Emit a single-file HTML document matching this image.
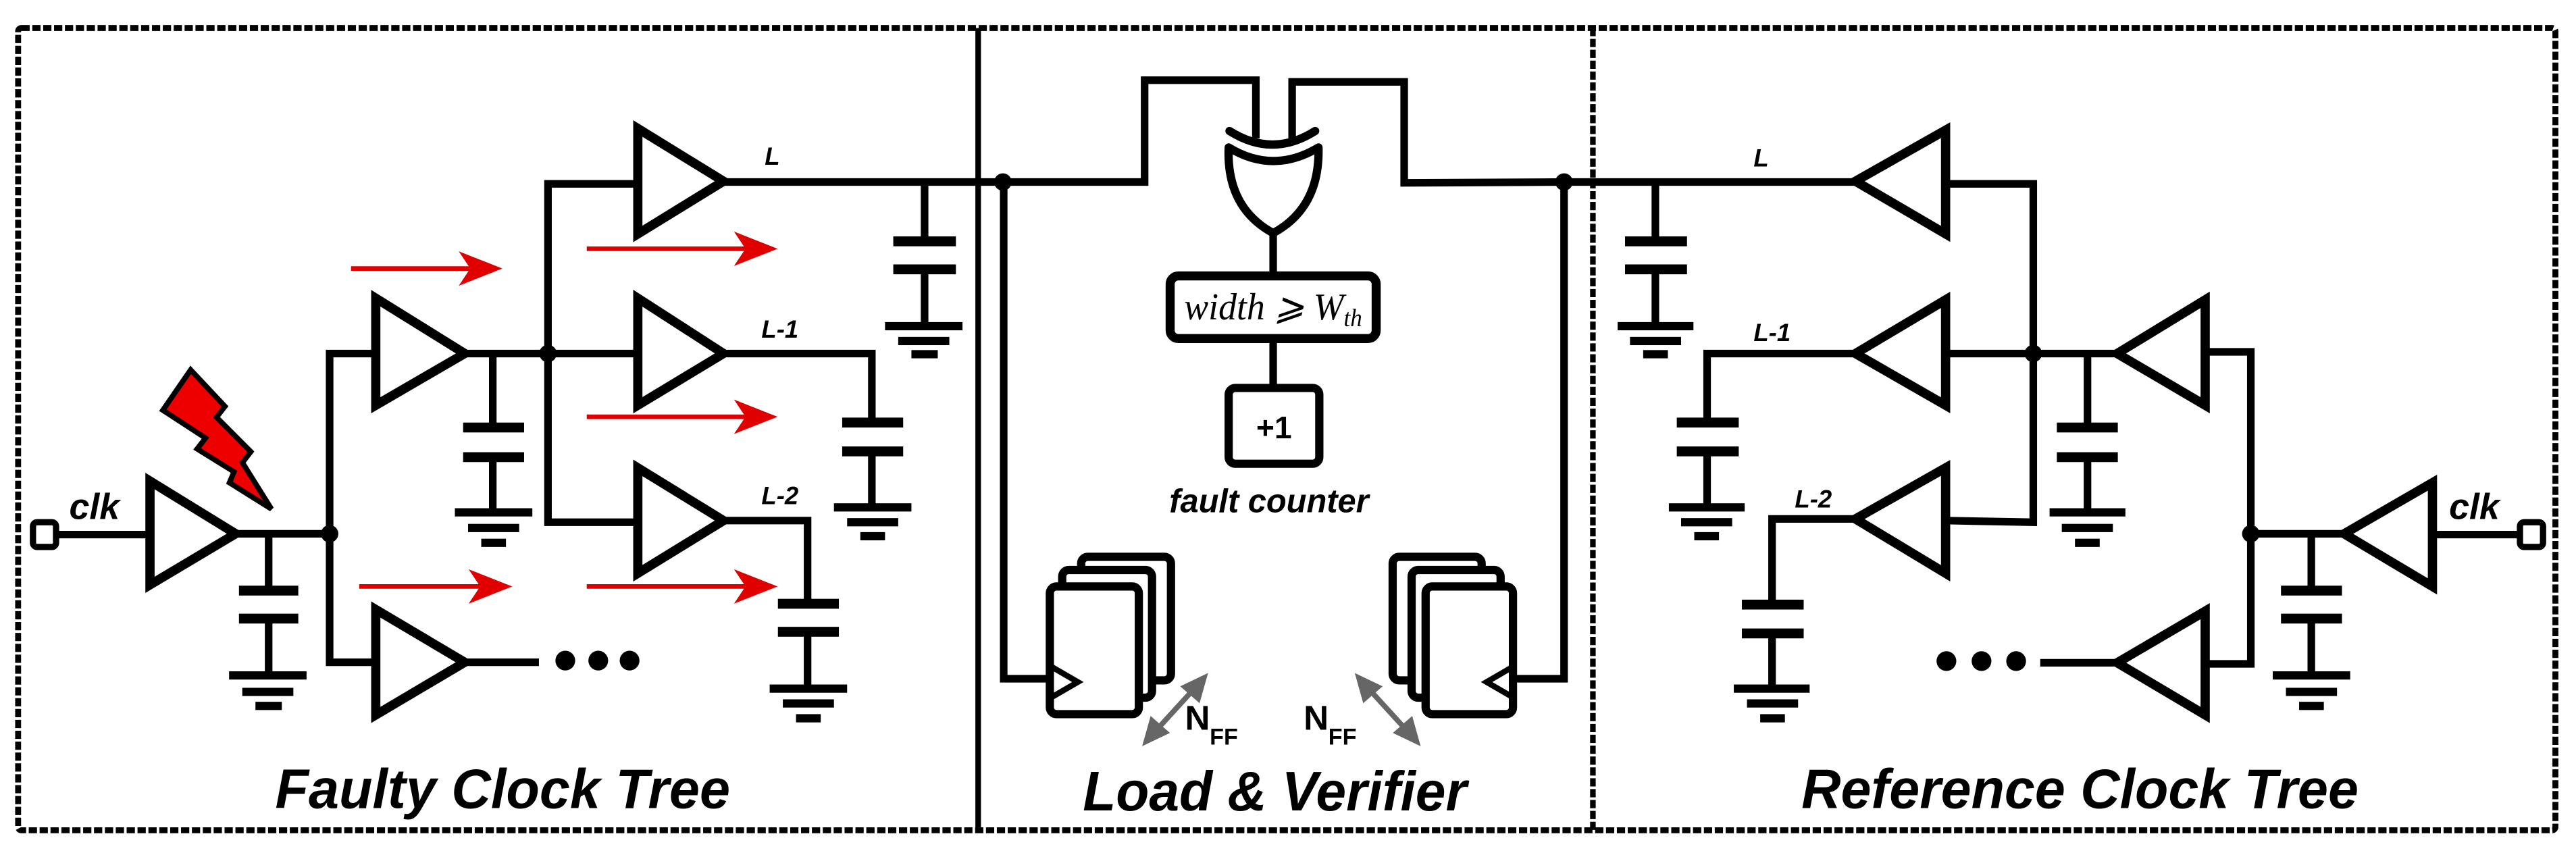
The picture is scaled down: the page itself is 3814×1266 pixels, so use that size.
<!DOCTYPE html>
<html><head><meta charset="utf-8"><style>
html,body{margin:0;padding:0;background:#fff;}
svg{display:block;}
text{font-family:"Liberation Sans",Arial,sans-serif;}
</style></head><body>
<svg width="3814" height="1266" viewBox="0 0 1563 519" preserveAspectRatio="none" xmlns="http://www.w3.org/2000/svg">
<rect width="1563" height="519" fill="#fff"/>
<!-- borders -->
<rect x="11" y="17" width="1539.5" height="487" fill="none" stroke="#000" stroke-width="3.6" stroke-dasharray="5 1.6" rx="2"/>
<line x1="593.5" y1="17" x2="593.5" y2="504" stroke="#000" stroke-width="3.4"/>
<line x1="966.5" y1="17" x2="966.5" y2="504" stroke="#000" stroke-width="3.4" stroke-dasharray="5 1.6"/>

<g fill="none" stroke="#000" stroke-width="4.6" stroke-linejoin="miter">
<!-- LEFT TREE wires -->
<polyline points="35,324.5 90,324.5"/>
<polyline points="143,324 200,324"/>
<line x1="163" y1="324" x2="163" y2="358"/>
<line x1="163" y1="375" x2="163" y2="410"/>
<polyline points="227,214.6 200,214.6 200,402 227,402"/>
<line x1="282" y1="402" x2="327" y2="402"/>
<line x1="282" y1="214.6" x2="386" y2="214.6"/>
<line x1="299" y1="214.6" x2="299" y2="259"/>
<line x1="299" y1="277" x2="299" y2="311"/>
<polyline points="386,111.6 332.5,111.6 332.5,317 386,317"/>
<line x1="439" y1="110.5" x2="608" y2="110.5"/>
<line x1="561" y1="110.5" x2="561" y2="146"/>
<line x1="561" y1="163" x2="561" y2="198"/>
<polyline points="439,214.6 529,214.6 529,256"/>
<line x1="529" y1="273.5" x2="529" y2="308"/>
<polyline points="439,316 490,316 490,366"/>
<line x1="490" y1="383" x2="490" y2="418"/>

<!-- MIDDLE wires -->
<polyline points="608,110.5 694.5,110.5 694.5,48.7 762,48.7 762,84"/>
<polyline points="784,84 784,49.7 852,49.7 852,111 949,110.5"/>
<polyline points="609,110 609,412 638.5,412"/>
<polyline points="949,110 949,412 917.5,412"/>
<line x1="772.5" y1="141" x2="772.5" y2="166"/>
<line x1="772.5" y1="207" x2="772.5" y2="233.4"/>

<!-- RIGHT TREE wires -->
<line x1="949" y1="110.5" x2="1125.8" y2="110.5"/>
<line x1="1004.4" y1="110.5" x2="1004.4" y2="146"/>
<line x1="1004.4" y1="163" x2="1004.4" y2="198"/>
<polyline points="1180.5,111.6 1233.7,111.6 1233.7,317 1180.5,316"/>
<polyline points="1125.8,214.6 1035.8,214.6 1035.8,256"/>
<line x1="1035.8" y1="273.5" x2="1035.8" y2="308"/>
<polyline points="1125.8,315 1075.2,315 1075.2,366.5"/>
<line x1="1075.2" y1="384" x2="1075.2" y2="418"/>
<line x1="1180.5" y1="214.6" x2="1284.6" y2="214.6"/>
<line x1="1266.6" y1="214.6" x2="1266.6" y2="259"/>
<line x1="1266.6" y1="277" x2="1266.6" y2="311"/>
<polyline points="1338,213.6 1365.7,213.6 1365.7,403 1338,403"/>
<line x1="1237.9" y1="402.3" x2="1284.6" y2="402.3"/>
<line x1="1365.7" y1="324" x2="1422.3" y2="324"/>
<line x1="1402.4" y1="324" x2="1402.4" y2="358"/>
<line x1="1402.4" y1="375.5" x2="1402.4" y2="410"/>
<line x1="1475.9" y1="324.5" x2="1527.6" y2="324.5"/>
</g>

<!-- buffers -->
<g fill="#fff" stroke="#000" stroke-width="5.6" stroke-linejoin="miter">
<polygon points="91,292 91,355 143,324"/>
<polygon points="228,181 228,246 282,214.6"/>
<polygon points="228,370 228,434 282,402"/>
<polygon points="387,78 387,142 439,110"/>
<polygon points="387,181 387,246 439,214.6"/>
<polygon points="387,284 387,348 439,316"/>
<polygon points="1180.5,79 1180.5,142 1125.8,110"/>
<polygon points="1180.5,182 1180.5,246 1125.8,214.6"/>
<polygon points="1180.5,284 1180.5,348 1125.8,315"/>
<polygon points="1338,182 1338,246 1284.6,214.6"/>
<polygon points="1338,371 1338,434 1284.6,402.3"/>
<polygon points="1475.9,293 1475.9,356 1422.3,324"/>
</g>

<!-- ports -->
<rect x="20" y="317" width="14" height="15" rx="2.5" fill="#fff" stroke="#000" stroke-width="3.8"/>
<rect x="1529" y="317" width="14" height="15" rx="2.5" fill="#fff" stroke="#000" stroke-width="3.8"/>

<!-- caps: plates and grounds -->
<g fill="#000">
<rect x="145" y="355.5" width="36" height="6"/><rect x="145" y="372.5" width="36" height="6"/>
<rect x="139" y="407.5" width="47" height="5"/><rect x="147" y="417.5" width="31" height="5"/><rect x="155" y="426" width="16" height="5"/>
<rect x="281" y="256.5" width="37" height="6"/><rect x="281" y="274.5" width="37" height="6"/>
<rect x="276" y="308.5" width="47" height="5"/><rect x="284" y="318" width="31" height="5"/><rect x="292" y="327" width="15" height="5"/>
<rect x="542" y="143.5" width="38" height="6"/><rect x="542" y="160.5" width="38" height="6"/>
<rect x="537" y="195.5" width="47" height="5"/><rect x="545" y="204.5" width="31" height="5"/><rect x="553" y="212.5" width="16" height="5"/>
<rect x="511" y="253.5" width="37" height="6"/><rect x="511" y="271" width="37" height="6"/>
<rect x="506" y="305.5" width="47" height="5"/><rect x="514" y="314.5" width="31" height="5"/><rect x="522" y="323" width="15" height="5"/>
<rect x="472" y="363.5" width="37" height="6"/><rect x="472" y="380.5" width="37" height="6"/>
<rect x="467" y="415.5" width="47" height="5"/><rect x="475" y="424.5" width="31" height="5"/><rect x="483" y="433.5" width="15" height="5"/>
<rect x="986" y="143.5" width="37.6" height="6"/><rect x="986" y="160.5" width="37.6" height="6"/>
<rect x="981.5" y="195.5" width="46" height="5"/><rect x="989" y="204.5" width="31" height="5"/><rect x="997" y="212.5" width="15" height="5"/>
<rect x="1017.4" y="253.5" width="37.6" height="6"/><rect x="1017.4" y="271" width="37.6" height="6"/>
<rect x="1012.6" y="305.5" width="46" height="5"/><rect x="1020" y="314.5" width="31" height="5"/><rect x="1028" y="323" width="15" height="5"/>
<rect x="1056.9" y="364" width="37.5" height="6"/><rect x="1056.9" y="381.5" width="37.5" height="6"/>
<rect x="1052" y="415.5" width="46" height="5"/><rect x="1060" y="424.5" width="31" height="5"/><rect x="1068" y="433.5" width="15" height="5"/>
<rect x="1248" y="256.5" width="37" height="6"/><rect x="1248" y="274.5" width="37" height="6"/>
<rect x="1243.6" y="308.5" width="46" height="5"/><rect x="1251" y="318" width="31" height="5"/><rect x="1259" y="327" width="15" height="5"/>
<rect x="1384" y="355.5" width="37" height="6"/><rect x="1384" y="372.5" width="37" height="6"/>
<rect x="1379" y="407.5" width="47" height="5"/><rect x="1387" y="417.5" width="31" height="5"/><rect x="1395" y="426" width="15" height="5"/>
<circle cx="200" cy="324" r="5.3"/><circle cx="332.5" cy="214.6" r="5.3"/><circle cx="608.5" cy="110.5" r="5.3"/>
<circle cx="949" cy="110.5" r="5.3"/><circle cx="1233.7" cy="214.6" r="5.3"/><circle cx="1365.7" cy="324" r="5.3"/>
<circle cx="343" cy="401" r="6"/><circle cx="363" cy="401" r="6"/><circle cx="382" cy="401" r="6"/>
<circle cx="1181" cy="401.3" r="6"/><circle cx="1202.3" cy="401.3" r="6"/><circle cx="1223.3" cy="401.3" r="6"/>
</g>

<!-- XOR -->
<g fill="none" stroke="#000" stroke-width="5" stroke-linecap="round">
<path d="M746,79.5 Q772,96 798,79.5"/>
<path d="M745.5,89.5 Q772.5,106 800,89.5 Q801,126 772.5,141.5 Q744,126 745.5,89.5 Z" fill="#fff" stroke-linejoin="round"/>
</g>
<!-- boxes -->
<rect x="710" y="167.5" width="125" height="38" rx="5" fill="#fff" stroke="#000" stroke-width="5.5"/>
<text x="772.5" y="194" text-anchor="middle" font-style="italic" font-size="23" style="font-family:'Liberation Serif',serif" textLength="108" lengthAdjust="spacingAndGlyphs">width ⩾ W<tspan font-size="15" dy="4">th</tspan></text>
<rect x="745.5" y="235.5" width="55" height="46" rx="4" fill="#fff" stroke="#000" stroke-width="5"/>
<text x="773" y="266" text-anchor="middle" font-weight="bold" font-size="19">+1</text>
<text x="770" y="311" text-anchor="middle" font-weight="bold" font-style="italic" font-size="20">fault counter</text>

<!-- FF stacks -->
<g fill="#fff" stroke="#000" stroke-width="5" stroke-linejoin="round">
<rect x="656" y="338" width="54.5" height="75" rx="4"/>
<rect x="644.5" y="346" width="54.5" height="77.5" rx="4"/>
<rect x="637" y="356" width="54" height="77.5" rx="4"/>
<rect x="845" y="338" width="54" height="75" rx="4"/>
<rect x="856.5" y="346" width="54" height="77.5" rx="4"/>
<rect x="865" y="356" width="53" height="77.5" rx="4"/>
</g>
<g fill="none" stroke="#000" stroke-width="3.5">
<polyline points="638.5,405 654,414 638.5,423"/>
<polyline points="917.5,405 902,414 917.5,423"/>
</g>
<!-- gray arrows -->
<g stroke="#666" stroke-width="3.2" fill="#666">
<line x1="700" y1="445" x2="726" y2="416.5"/>
<polygon points="695.5,450 699,437.5 707,444.5"/>
<polygon points="730.5,411.5 727,424 719,417"/>
<line x1="829" y1="416.5" x2="855" y2="445"/>
<polygon points="824.5,411.5 836,417 828,424"/>
<polygon points="859.5,450 848,444.5 856,437.5"/>
</g>
<text x="719" y="443" font-weight="bold" font-size="21">N</text>
<text x="734" y="452" font-weight="bold" font-size="14">FF</text>
<text x="791" y="443" font-weight="bold" font-size="21">N</text>
<text x="806" y="452" font-weight="bold" font-size="14">FF</text>

<!-- red arrows -->
<g stroke="#e00000" stroke-width="2.8" fill="#e00000">
<line x1="213" y1="163" x2="290" y2="163"/><polygon points="301,163 282,155.5 287,163 282,170.5"/>
<line x1="356" y1="151" x2="456" y2="151"/><polygon points="468,151 449,143.5 454,151 449,158.5"/>
<line x1="356" y1="253" x2="456" y2="253"/><polygon points="468,253 449,245.5 454,253 449,260.5"/>
<line x1="218" y1="356" x2="295" y2="356"/><polygon points="307,356 288,348.5 293,356 288,363.5"/>
<line x1="356" y1="356" x2="456" y2="356"/><polygon points="468,356 449,348.5 454,356 449,363.5"/>
</g>
<!-- bolt -->
<polygon points="115.7,224.5 136.5,246.7 131.4,253.3 152.2,274.2 147.1,280.8 164.7,309 139.2,293 142,286.4 119.6,272.5 124.7,265.9 98.8,249" fill="#ee0000" stroke="#000" stroke-width="3.2" stroke-linejoin="miter"/>

<!-- labels -->
<g font-weight="bold" font-style="italic">
<text x="42" y="315" font-size="22">clk</text>
<text x="1486" y="315" font-size="22">clk</text>
<text x="464" y="100" font-size="15">L</text>
<text x="462" y="205" font-size="15">L-1</text>
<text x="462" y="306" font-size="15">L-2</text>
<text x="1064" y="101" font-size="15">L</text>
<text x="1064" y="207" font-size="15">L-1</text>
<text x="1089" y="308" font-size="15">L-2</text>
<text x="167" y="490.5" font-size="34" textLength="276" lengthAdjust="spacingAndGlyphs">Faulty Clock Tree</text>
<text x="657" y="492" font-size="34" textLength="233" lengthAdjust="spacingAndGlyphs">Load &amp; Verifier</text>
<text x="1093" y="490.5" font-size="34" textLength="338" lengthAdjust="spacingAndGlyphs">Reference Clock Tree</text>
</g>
</svg>
</body></html>
